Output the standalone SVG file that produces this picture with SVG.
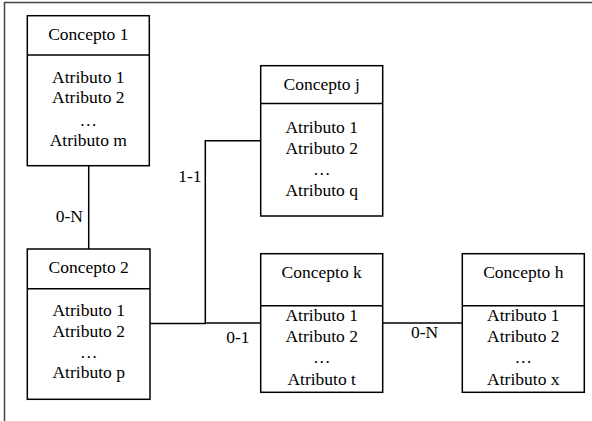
<svg xmlns="http://www.w3.org/2000/svg" width="592" height="421" viewBox="0 0 592 421">
<style>
.box{fill:#fff;stroke:#000;stroke-width:1.5}
.ln{stroke:#000;stroke-width:1.5;fill:none}
.t{font-family:'Liberation Serif','Times New Roman',Times,'DejaVu Serif',serif;font-size:17.5px;fill:#000}
.c{text-anchor:middle}
</style>
<rect width="592" height="421" fill="#fff"/>
<path d="M4.5 421 V2.5 H592" fill="none" stroke="#444" stroke-width="1.5"/>
<g id="connectors">
<path class="ln" d="M88.7 165.7 V249"/>
<path class="ln" d="M150 323.5 H205.3 V140.7 H260.7"/>
<path class="ln" d="M205.3 323 H260.7"/>
<path class="ln" d="M382.7 323 H462.3"/>
<text class="t" x="83" y="221.5" text-anchor="end">0-N</text>
<text class="t" x="201.5" y="181.5" text-anchor="end">1-1</text>
<text class="t" x="249.5" y="343" text-anchor="end">0-1</text>
<text class="t c" x="424.5" y="338">0-N</text>
</g>
<g id="concepto1" class="t">
<rect class="box" x="27.3" y="15.7" width="122" height="150"/>
<path class="ln" d="M27.3 55 H149.3"/>
<text class="t c" x="88.3" y="40">Concepto 1</text>
<text class="t c" x="88.3" y="82.5">Atributo 1</text>
<text class="t c" x="88.3" y="102.5">Atributo 2</text>
<text class="t c" x="88.3" y="126">…</text>
<text class="t c" x="88.3" y="146">Atributo m</text>
</g>
<g id="concepto2">
<rect class="box" x="27.3" y="249" width="122.7" height="150.3"/>
<path class="ln" d="M27.3 288.7 H150"/>
<text class="t c" x="88.7" y="272.5">Concepto 2</text>
<text class="t c" x="88.7" y="315.7">Atributo 1</text>
<text class="t c" x="88.7" y="336.5">Atributo 2</text>
<text class="t c" x="88.7" y="358">…</text>
<text class="t c" x="88.7" y="377.5">Atributo p</text>
</g>
<g id="conceptoj">
<rect class="box" x="260.7" y="65.7" width="122" height="150.3"/>
<path class="ln" d="M260.7 103.5 H382.7"/>
<text class="t c" x="321.7" y="90">Concepto j</text>
<text class="t c" x="321.7" y="133.3">Atributo 1</text>
<text class="t c" x="321.7" y="154">Atributo 2</text>
<text class="t c" x="321.7" y="175">…</text>
<text class="t c" x="321.7" y="195.5">Atributo q</text>
</g>
<g id="conceptok">
<rect class="box" x="260.7" y="253.7" width="122" height="138.6"/>
<path class="ln" d="M260.7 305.7 H382.7"/>
<text class="t c" x="321.7" y="278.3">Concepto k</text>
<text class="t c" x="321.7" y="320.7">Atributo 1</text>
<text class="t c" x="321.7" y="341.7">Atributo 2</text>
<text class="t c" x="321.7" y="363">…</text>
<text class="t c" x="321.7" y="385">Atributo t</text>
</g>
<g id="conceptoh">
<rect class="box" x="462.3" y="253.7" width="122" height="138.6"/>
<path class="ln" d="M462.3 305.7 H584.3"/>
<text class="t c" x="523.3" y="278.3">Concepto h</text>
<text class="t c" x="523.3" y="320.7">Atributo 1</text>
<text class="t c" x="523.3" y="341.7">Atributo 2</text>
<text class="t c" x="523.3" y="363">…</text>
<text class="t c" x="523.3" y="385">Atributo x</text>
</g>
</svg>
